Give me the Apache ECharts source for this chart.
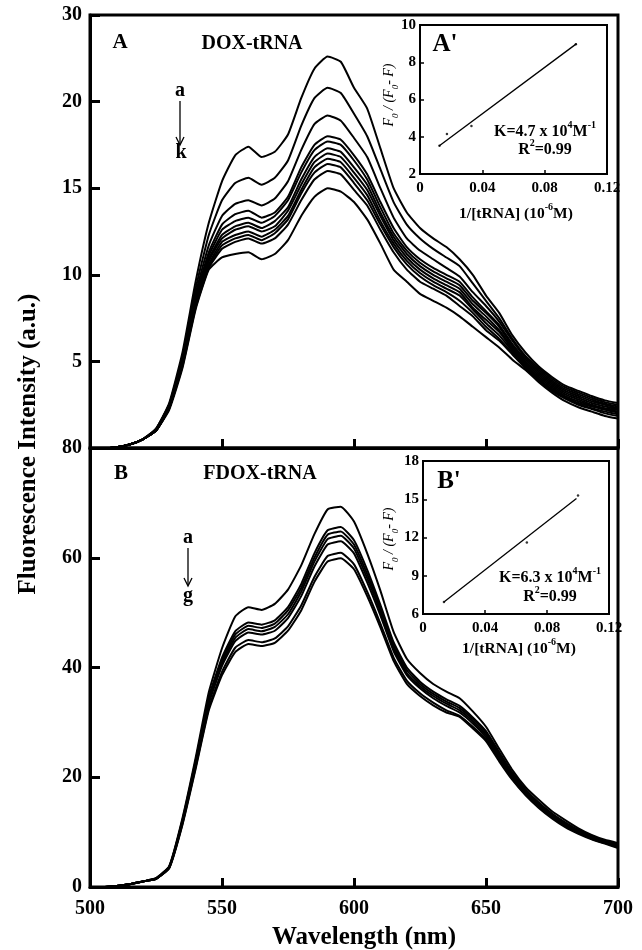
<!DOCTYPE html>
<html><head><meta charset="utf-8">
<script src="https://cdn.jsdelivr.net/npm/echarts@6/dist/echarts.min.js"></script>
<style>html,body{margin:0;padding:0;background:#fff}#c{width:642px;height:950px}</style>
</head><body><div id="c"></div>
<script>
// ---------- DATA ----------
const wavelengths = [500,505,510,515,520,525,530,535,540,545,550,555,560,565,570,575,580,585,590,595,600,605,610,615,620,625,630,635,640,645,650,655,660,665,670,675,680,685,690,695,700];

// Panel A: DOX-tRNA, curves a..k
const doxA = [0,0,0.05,0.2,0.5,1.1,2.6,5.5,9.6,13.0,15.4,16.9,17.4,16.8,17.1,18.1,20.2,21.9,22.6,22.3,20.8,19.6,17.3,15.0,13.6,12.7,12.1,11.6,10.9,10.0,8.8,7.8,6.5,5.5,4.7,4.1,3.6,3.3,3.0,2.75,2.6];
const doxB = [0,0,0.05,0.2,0.5,1.1,2.5,5.3,9.2,12.3,14.3,15.3,15.6,15.2,15.6,16.6,18.6,20.2,20.8,20.5,19.3,18.0,16.1,14.2,12.9,12.1,11.5,11.0,10.5,9.5,8.5,7.5,6.3,5.3,4.6,4.0,3.5,3.2,2.9,2.65,2.5];
const doxC = [0,0,0.05,0.2,0.5,1.1,2.5,5.2,8.9,11.7,13.4,14.1,14.3,14.0,14.4,15.4,17.2,18.7,19.2,18.9,17.9,16.8,15.0,13.3,12.1,11.4,10.9,10.4,9.9,9.0,8.2,7.3,6.2,5.2,4.5,3.9,3.4,3.1,2.8,2.55,2.4];
const doxD = [0,0,0.05,0.2,0.5,1.0,2.4,5.1,8.7,11.3,12.9,13.5,13.7,13.3,13.6,14.5,16.2,17.5,18.0,17.8,16.9,15.8,14.2,12.7,11.6,10.9,10.4,10.0,9.6,8.7,7.9,7.1,6.0,5.1,4.4,3.8,3.3,3.0,2.7,2.5,2.3];
const doxE = [0,0,0.05,0.2,0.5,1.0,2.4,5.0,8.6,11.1,12.6,13.1,13.3,13.0,13.4,14.3,15.9,17.2,17.7,17.5,16.6,15.5,13.9,12.4,11.4,10.7,10.2,9.8,9.4,8.5,7.8,7.0,5.9,5.0,4.3,3.7,3.2,2.9,2.6,2.4,2.25];
const doxF = [0,0,0.05,0.2,0.5,1.0,2.4,5.0,8.5,10.9,12.3,12.8,13.0,12.7,13.1,13.9,15.5,16.8,17.3,17.1,16.2,15.2,13.6,12.2,11.2,10.5,10.0,9.6,9.2,8.3,7.6,6.8,5.8,4.9,4.2,3.6,3.1,2.8,2.5,2.3,2.2];
const doxG = [0,0,0.05,0.2,0.5,1.0,2.3,4.9,8.4,10.8,12.1,12.6,12.8,12.5,12.8,13.7,15.2,16.5,17.0,16.8,15.9,14.9,13.4,12.0,11.0,10.3,9.8,9.4,9.0,8.1,7.4,6.7,5.7,4.8,4.1,3.5,3.0,2.7,2.45,2.25,2.1];
const doxH = [0,0,0.05,0.2,0.5,1.0,2.3,4.8,8.3,10.6,11.9,12.3,12.5,12.2,12.6,13.4,14.9,16.2,16.7,16.5,15.6,14.6,13.1,11.8,10.8,10.1,9.6,9.2,8.8,8.0,7.2,6.5,5.6,4.8,4.0,3.4,2.95,2.6,2.4,2.2,2.05];
const doxI = [0,0,0.05,0.2,0.5,1.0,2.3,4.8,8.2,10.5,11.7,12.1,12.3,12.0,12.4,13.2,14.7,15.9,16.4,16.2,15.3,14.3,12.9,11.6,10.6,9.9,9.4,9.0,8.5,7.8,7.0,6.3,5.5,4.7,3.95,3.35,2.9,2.55,2.3,2.1,1.95];
const doxJ = [0,0,0.05,0.2,0.5,1.0,2.3,4.7,8.1,10.4,11.5,11.9,12.1,11.8,12.1,12.9,14.3,15.5,16.0,15.8,14.9,14.0,12.6,11.3,10.3,9.6,9.2,8.8,8.2,7.6,6.8,6.2,5.4,4.6,3.9,3.3,2.85,2.5,2.25,2.0,1.85];
const doxK = [0,0,0.05,0.2,0.5,1.0,2.2,4.6,8.0,10.3,11.0,11.2,11.3,10.9,11.2,12.0,13.4,14.5,15.0,14.8,14.2,13.2,11.8,10.3,9.6,8.9,8.5,8.1,7.6,7.0,6.4,5.8,5.1,4.5,3.8,3.2,2.7,2.35,2.1,1.85,1.7];

// Panel B: FDOX-tRNA, curves a..g
const fdoxA = [0,0,0.2,0.5,1.0,1.6,3.8,12.5,23.5,35.5,43.5,49.3,51.0,50.5,51.6,54.2,58.6,64.3,68.8,69.3,66.6,60.8,54.0,46.5,41.6,39.0,37.0,35.6,34.4,32.0,29.2,25.2,21.3,18.2,15.9,13.8,12.2,10.7,9.5,8.6,8.0];
const fdoxB = [0,0,0.2,0.5,1.0,1.6,3.7,12.2,23.0,34.6,41.8,46.6,48.2,47.8,48.6,51.0,55.2,60.8,65.0,65.6,63.2,57.8,51.4,44.6,40.0,37.4,35.6,34.2,33.0,30.9,28.4,24.6,20.8,17.8,15.4,13.4,11.8,10.4,9.3,8.4,7.8];
const fdoxC = [0,0,0.2,0.5,1.0,1.5,3.6,12.0,22.7,34.2,41.3,46.0,47.6,47.2,48.0,50.4,54.5,60.0,64.2,64.8,62.4,57.0,50.8,44.0,39.5,37.0,35.2,33.8,32.6,30.6,28.1,24.3,20.6,17.6,15.2,13.3,11.6,10.3,9.2,8.3,7.6];
const fdoxD = [0,0,0.2,0.5,1.0,1.5,3.6,11.9,22.5,33.8,40.8,45.4,47.0,46.6,47.4,49.7,53.8,59.3,63.4,64.0,61.7,56.3,50.2,43.5,39.0,36.6,34.8,33.4,32.2,30.2,27.7,24.0,20.3,17.3,15.0,13.1,11.5,10.2,9.0,8.2,7.5];
const fdoxE = [0,0,0.2,0.5,1.0,1.5,3.5,11.7,22.2,33.4,40.3,44.8,46.4,46.0,46.7,49.0,53.0,58.4,62.4,63.0,60.8,55.5,49.5,43.0,38.6,36.2,34.4,33.0,31.8,29.8,27.3,23.6,20.0,17.1,14.8,12.9,11.3,10.0,8.9,8.1,7.4];
const fdoxF = [0,0,0.2,0.5,1.0,1.5,3.5,11.5,21.8,32.6,39.2,43.6,45.0,44.6,45.3,47.5,51.3,56.5,60.3,60.9,58.8,53.8,48.0,41.8,37.6,35.3,33.6,32.2,31.2,29.2,26.9,23.2,19.7,16.9,14.6,12.7,11.1,9.9,8.8,8.0,7.3];
const fdoxG = [0,0,0.2,0.5,1.0,1.5,3.4,11.3,21.5,32.2,38.6,42.8,44.3,43.9,44.5,46.7,50.4,55.6,59.3,59.9,57.9,53.0,47.3,41.2,37.0,34.8,33.1,31.8,31.0,28.9,26.6,22.9,19.5,16.7,14.4,12.5,10.9,9.7,8.7,7.9,7.1];

// Axis ticks / labels
const xTicks = [500,550,600,650,700];
const yTicksA = [0,5,10,15,20,25];
const yLabelsA = ['','5','10','15','20','30'];
const yTicksB = [0,20,40,60,80];
const yLabelsB = ['0','20','40','60','80'];

// Inset A' (Stern-Volmer, DOX)
const insetAx = [0.0125,0.0173,0.033,0.100];
const insetAy = [3.52,4.15,4.58,8.96];
const fitAx = [0.0122,0.1005];
const fitAy = [3.50,9.00];
const insetTicksX = [0,0.04,0.08,0.12];
const insetLabelsX = ['0','0.04','0.08','0.12'];
const insetATicksY = [2,4,6,8,10];
// Inset B' (Stern-Volmer, FDOX)
const insetBx = [0.0135,0.067,0.100];
const insetBy = [6.95,11.6,15.3];
const fitBx = [0.0135,0.099];
const fitBy = [6.94,15.05];
const insetBTicksY = [6,9,12,15,18];

// ---------- CHART ----------
const FONT = '"Liberation Serif","Times New Roman",serif';
const chart = echarts.init(document.getElementById('c'), null, {renderer:'canvas'});
const zip = (xs, ys) => xs.map((x,i)=>[x, ys[i]]);

const curvesA = [doxA,doxB,doxC,doxD,doxE,doxF,doxG,doxH,doxI,doxJ,doxK];
const curvesB = [fdoxA,fdoxB,fdoxC,fdoxD,fdoxE,fdoxF,fdoxG];

const lineSeries = (arr, idx) => ({
  type:'line', xAxisIndex: idx, yAxisIndex: idx, data: zip(wavelengths, arr),
  showSymbol:false, symbol:'none', silent:true, animation:false, smooth:0.15,
  lineStyle:{color:'#000', width:2}
});

const mainLabel = {fontFamily:FONT, fontWeight:'bold', fontSize:20, color:'#000'};
const insetLabel = {fontFamily:FONT, fontWeight:'bold', fontSize:15, color:'#000'};

const fmtInsetX = v => { const i = insetTicksX.findIndex(t=>Math.abs(t-v)<1e-9); return i<0?'':insetLabelsX[i]; };

const series = [];
curvesA.forEach(c => series.push(lineSeries(c, 0)));
curvesB.forEach(c => series.push(lineSeries(c, 1)));
series.push({type:'line', z:20, xAxisIndex:2, yAxisIndex:2, data:zip(fitAx,fitAy), showSymbol:false, symbol:'none', lineStyle:{color:'#000', width:1.3}, animation:false});
series.push({type:'scatter', z:20, xAxisIndex:2, yAxisIndex:2, data:zip(insetAx,insetAy), symbolSize:2.5, itemStyle:{color:'#000'}, animation:false});
series.push({type:'line', z:20, xAxisIndex:3, yAxisIndex:3, data:zip(fitBx,fitBy), showSymbol:false, symbol:'none', lineStyle:{color:'#000', width:1.3}, animation:false});
series.push({type:'scatter', z:20, xAxisIndex:3, yAxisIndex:3, data:zip(insetBx,insetBy), symbolSize:2.5, itemStyle:{color:'#000'}, animation:false});

const supRich = {
  n:{fontFamily:FONT, fontWeight:'bold', fontSize:16, color:'#000', lineHeight:20, verticalAlign:'bottom'},
  s:{fontFamily:FONT, fontWeight:'bold', fontSize:10, color:'#000', lineHeight:20, verticalAlign:'top'}
};
const smallRich = {
  n:{fontFamily:FONT, fontWeight:'bold', fontSize:15.5, color:'#000', lineHeight:19, verticalAlign:'bottom'},
  s:{fontFamily:FONT, fontWeight:'bold', fontSize:10, color:'#000', lineHeight:19, verticalAlign:'top'}
};
const italRich = {
  n:{fontFamily:FONT, fontStyle:'italic', fontSize:14, color:'#000', lineHeight:18, verticalAlign:'top'},
  b:{fontFamily:FONT, fontStyle:'italic', fontSize:9, color:'#000', lineHeight:18, verticalAlign:'bottom'}
};

const txt = (x,y,text,size,extra) => ({type:'text', x, y, silent:true, style:Object.assign({text, fontFamily:FONT, fontWeight:'bold', fontSize:size, fill:'#000', textAlign:'center', textVerticalAlign:'middle'}, extra||{})});

const insetAxisCommon = () => ({axisLine:{show:true, lineStyle:{color:'#000', width:2}}, axisTick:{show:true, inside:true, length:4, lineStyle:{color:'#000', width:1.5}}, splitLine:{show:false}, z:21});

const option = {
  backgroundColor:'#fff',
  animation:false,
  grid:[
    {left:90, top:15, width:528, height:433, show:true, borderColor:'#000', borderWidth:3, backgroundColor:'transparent'},
    {left:90, top:448, width:528, height:439, show:true, borderColor:'#000', borderWidth:3, backgroundColor:'transparent'},
    {left:420, top:25, width:187, height:149, show:true, borderColor:'#000', borderWidth:2, backgroundColor:'#fff'},
    {left:423, top:461, width:186, height:153, show:true, borderColor:'#000', borderWidth:2, backgroundColor:'#fff'}
  ],
  xAxis:[
    {gridIndex:0, type:'value', min:500, max:700, interval:50, axisLine:{show:true, lineStyle:{color:'#000', width:3}}, axisTick:{show:true, inside:true, length:9, lineStyle:{color:'#000', width:3}}, axisLabel:{show:false}, splitLine:{show:false}},
    {gridIndex:1, type:'value', min:500, max:700, interval:50, axisLine:{show:true, lineStyle:{color:'#000', width:3}}, axisTick:{show:true, inside:true, length:9, lineStyle:{color:'#000', width:3}}, axisLabel:Object.assign({show:true, margin:12, formatter:v=>xTicks.includes(v)?String(v):''}, mainLabel), splitLine:{show:false}},
    Object.assign({gridIndex:2, type:'value', min:0, max:0.12, interval:0.04, axisLabel:Object.assign({show:true, margin:7, formatter:fmtInsetX, showMinLabel:true, showMaxLabel:true}, insetLabel)}, insetAxisCommon()),
    Object.assign({gridIndex:3, type:'value', min:0, max:0.12, interval:0.04, axisLabel:Object.assign({show:true, margin:7, formatter:fmtInsetX, showMinLabel:true, showMaxLabel:true}, insetLabel)}, insetAxisCommon())
  ],
  yAxis:[
    {gridIndex:0, type:'value', min:0, max:25, interval:5, axisLine:{show:true, lineStyle:{color:'#000', width:3}}, axisTick:{show:true, inside:true, length:10, lineStyle:{color:'#000', width:3}}, axisLabel:Object.assign({show:true, margin:8, formatter:v=>{const i=yTicksA.indexOf(v); return i<0?'':yLabelsA[i];}}, mainLabel), splitLine:{show:false}},
    {gridIndex:1, type:'value', min:0, max:80, interval:20, axisLine:{show:true, lineStyle:{color:'#000', width:3}}, axisTick:{show:true, inside:true, length:10, lineStyle:{color:'#000', width:3}}, axisLabel:Object.assign({show:true, margin:8, formatter:v=>{const i=yTicksB.indexOf(v); return i<0?'':yLabelsB[i];}}, mainLabel), splitLine:{show:false}},
    Object.assign({gridIndex:2, type:'value', min:2, max:10, interval:2, axisLabel:Object.assign({show:true, margin:4, formatter:v=>insetATicksY.includes(v)?String(v):''}, insetLabel)}, insetAxisCommon()),
    Object.assign({gridIndex:3, type:'value', min:6, max:18, interval:3, axisLabel:Object.assign({show:true, margin:4, formatter:v=>insetBTicksY.includes(v)?String(v):''}, insetLabel)}, insetAxisCommon())
  ],
  series,
  graphic:[
    // axis titles
    {type:'text', x:29, y:444, rotation:Math.PI/2, silent:true, style:{text:'Fluorescence Intensity (a.u.)', fontFamily:FONT, fontWeight:'bold', fontSize:25, fill:'#000', textAlign:'center', textVerticalAlign:'middle'}},
    txt(364, 938, 'Wavelength (nm)', 25),
    // panel A labels
    txt(120, 43, 'A', 21),
    txt(252, 44, 'DOX-tRNA', 20),
    txt(180, 91, 'a', 20),
    txt(181, 153, 'k', 20),
    {type:'line', silent:true, shape:{x1:180, y1:101, x2:180, y2:144}, style:{stroke:'#000', lineWidth:1.3}},
    {type:'polyline', silent:true, shape:{points:[[176,137],[180,145],[184,137]]}, style:{stroke:'#000', lineWidth:1.3, fill:null}},
    // panel B labels
    txt(121, 474, 'B', 21),
    txt(260, 474, 'FDOX-tRNA', 20),
    txt(188, 538, 'a', 20),
    txt(188, 596, 'g', 20),
    {type:'line', silent:true, shape:{x1:188, y1:548, x2:188, y2:585}, style:{stroke:'#000', lineWidth:1.3}},
    {type:'polyline', silent:true, shape:{points:[[184,578],[188,586],[192,578]]}, style:{stroke:'#000', lineWidth:1.3, fill:null}},
    // inset A'
    {type:'text', z:30, x:445, y:45, silent:true, style:{text:"A'", fontFamily:FONT, fontWeight:'bold', fontSize:25, fill:'#000', textAlign:'center', textVerticalAlign:'middle'}},
    {type:'text', z:30, x:545, y:130, silent:true, style:{text:'{n|K=4.7 x 10}{s|4}{n|M}{s|-1}', rich:supRich, textAlign:'center', textVerticalAlign:'middle'}},
    {type:'text', z:30, x:545, y:148, silent:true, style:{text:'{n|R}{s|2}{n|=0.99}', rich:supRich, textAlign:'center', textVerticalAlign:'middle'}},
    {type:'text', z:30, x:391, y:95, rotation:Math.PI/2, silent:true, style:{text:'{n|F}{b|0}{n| / (}{n|F}{b|0}{n|- }{n|F)}', rich:italRich, textAlign:'center', textVerticalAlign:'middle'}},
    {type:'text', z:30, x:516, y:212, silent:true, style:{text:'{n|1/[tRNA] (10}{s|-6}{n|M)}', rich:smallRich, textAlign:'center', textVerticalAlign:'middle'}},
    // inset B'
    {type:'text', z:30, x:449, y:482, silent:true, style:{text:"B'", fontFamily:FONT, fontWeight:'bold', fontSize:25, fill:'#000', textAlign:'center', textVerticalAlign:'middle'}},
    {type:'text', z:30, x:550, y:576, silent:true, style:{text:'{n|K=6.3 x 10}{s|4}{n|M}{s|-1}', rich:supRich, textAlign:'center', textVerticalAlign:'middle'}},
    {type:'text', z:30, x:550, y:595, silent:true, style:{text:'{n|R}{s|2}{n|=0.99}', rich:supRich, textAlign:'center', textVerticalAlign:'middle'}},
    {type:'text', z:30, x:391, y:539, rotation:Math.PI/2, silent:true, style:{text:'{n|F}{b|0}{n| / (}{n|F}{b|0}{n|- }{n|F)}', rich:italRich, textAlign:'center', textVerticalAlign:'middle'}},
    {type:'text', z:30, x:519, y:647, silent:true, style:{text:'{n|1/[tRNA] (10}{s|-6}{n|M)}', rich:smallRich, textAlign:'center', textVerticalAlign:'middle'}}
  ]
};
chart.setOption(option);
</script>
</body></html>
